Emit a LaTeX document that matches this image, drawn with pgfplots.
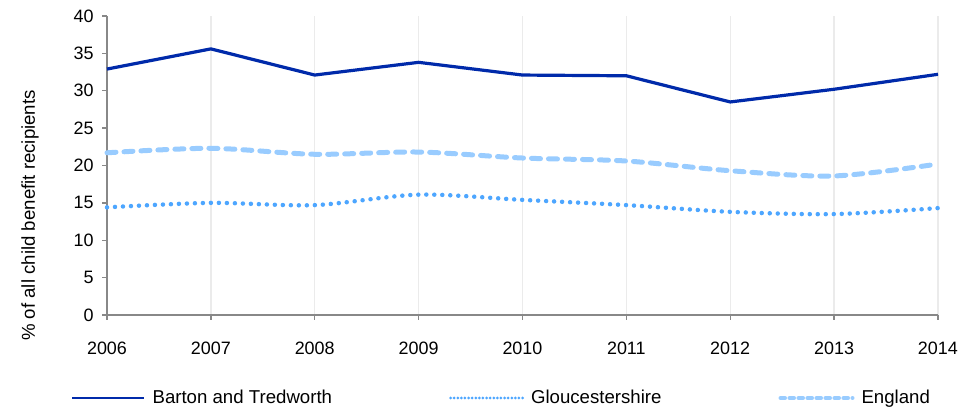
\documentclass[border=0pt]{standalone}
\usepackage{pgfplots}
\pgfplotsset{compat=1.18}
\usepackage{fontspec}
\setmainfont{Liberation Sans}
\definecolor{barton}{RGB}{0,42,170}
\definecolor{glos}{RGB}{77,166,255}
\definecolor{eng}{RGB}{153,204,255}
\definecolor{axgray}{RGB}{136,136,136}
\definecolor{gridgray}{RGB}{235,235,235}
\begin{document}
\begin{tikzpicture}
\begin{axis}[
  scale only axis,
  width=831bp, height=299bp,
  xmin=2006, xmax=2014, ymin=0, ymax=40,
  xtick={2006,...,2014}, ytick={0,5,...,40},
  xticklabel style={/pgf/number format/1000 sep={}, yshift=-18bp},
  yticklabel style={xshift=-5bp},
  /pgf/number format/assume math mode=true,
  tick label style={font=\fontsize{18}{21}\selectfont, text=black},
  ylabel={\% of all child benefit recipients},
  every axis y label/.style={at={(axis description cs:0,0.5)}, xshift=-77bp, yshift=-50bp, rotate=90, anchor=center, font=\fontsize{18.7}{22}\selectfont},
  axis x line*=bottom, axis y line*=left,
  axis line style={axgray, line width=1.3bp},
  tick style={axgray, line width=1.3bp},
  tick align=outside, major tick length=5bp,
  xmajorgrids, major x grid style={gridgray, line width=1.3bp},
  clip=false,
  legend columns=3,
  legend style={at={(axis description cs:0,0)}, anchor=west, yshift=-83bp, xshift=-39bp, draw=none, fill=none,
    font=\fontsize{18.7}{22}\selectfont,
    /tikz/every odd column/.append style={column sep=5bp},
    /tikz/every even column/.append style={column sep=115bp}},
  legend image code/.code={\draw[#1] (0bp,0bp) -- (72bp,0bp);},
]
\addplot[barton, line width=3.2bp, line join=round, legend image post style={line width=2.4bp}] coordinates {
(2006,32.9) (2007,35.6) (2008,32.1) (2009,33.8) (2010,32.1) (2011,32.0) (2012,28.5) (2013,30.2) (2014,32.2)};
\addlegendentry{Barton and Tredworth}
\addplot[glos, line width=4.5bp, line cap=round, dash pattern=on 0bp off 8bp, smooth, tension=0.5, legend image post style={line width=3bp, dash pattern=on 0bp off 3.6bp}] coordinates {
(2006,14.4) (2007,15.0) (2008,14.7) (2009,16.1) (2010,15.4) (2011,14.7) (2012,13.8) (2013,13.5) (2014,14.3)};
\addlegendentry{Gloucestershire}
\addplot[eng, line width=5bp, line cap=round, dash pattern=on 9bp off 8bp, smooth, tension=0.5, legend image post style={line width=4bp, dash pattern=on 4.5bp off 4.5bp}] coordinates {
(2006,21.7) (2007,22.3) (2008,21.5) (2009,21.8) (2010,21.0) (2011,20.6) (2012,19.3) (2013,18.6) (2014,20.2)};
\addlegendentry{England}
\end{axis}
\pgfresetboundingbox
\path[use as bounding box] ([xshift=-107bp,yshift=-94bp]current axis.south west) rectangle ([xshift=39bp,yshift=16bp]current axis.north east);
\end{tikzpicture}
\end{document}
